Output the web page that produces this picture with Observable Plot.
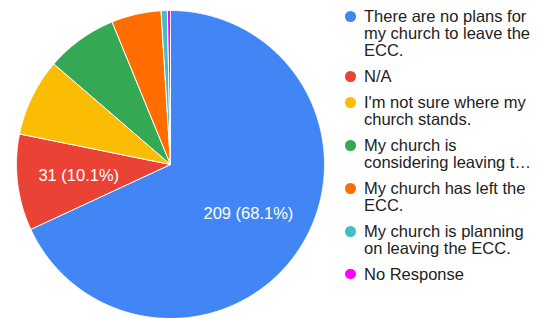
<!DOCTYPE html>
<html><head><meta charset="utf-8">
<script src="https://cdn.jsdelivr.net/npm/d3@7"></script>
<script src="https://cdn.jsdelivr.net/npm/@observablehq/plot@0.6"></script>
<style>
body{margin:0;background:#fff;font-family:Arial,"Liberation Sans",sans-serif;}
#wrap{display:flex;width:543px;height:318px;overflow:hidden;}
#chart{width:340px;height:318px;}
#legend{width:203px;padding-top:8.3px;font-size:16.5px;line-height:16.7px;color:#222;box-sizing:border-box;}
.item{position:relative;padding-left:24px;margin-bottom:9.5px;white-space:nowrap;}
.dot{position:absolute;left:5.4px;top:3.1px;width:10.6px;height:10.6px;border-radius:50%;}
</style></head>
<body><div id="wrap"><div id="chart"></div><div id="legend"></div></div>
<script>
const categories = [
  "There are no plans for my church to leave the ECC.",
  "N/A",
  "I'm not sure where my church stands.",
  "My church is considering leaving the ECC.",
  "My church has left the ECC.",
  "My church is planning on leaving the ECC.",
  "No Response"
];
const values = [209, 31, 25, 23, 16, 2, 1];
const colors = ["#4285f4", "#ea4335", "#fbbc04", "#34a853", "#ff6d01", "#46bdc6", "#ff00ff"];
const legendLines = [
  ["There are no plans for", "my church to leave the", "ECC."],
  ["N/A"],
  ["I'm not sure where my", "church stands."],
  ["My church is", "considering leaving t\u2026"],
  ["My church has left the", "ECC."],
  ["My church is planning", "on leaving the ECC."],
  ["No Response"]
];

const rows = categories.map((c, i) => ({cat: c, value: values[i]}));
const total = d3.sum(values);
const arcs = d3.pie().sort(null).value(d => d.value)(rows);

const pts = [];
arcs.forEach(a => {
  const n = Math.max(2, Math.ceil((a.endAngle - a.startAngle) / 0.005));
  pts.push({cat: a.data.cat, x: 0, y: 0});
  for (let i = 0; i <= n; i++) {
    const t = a.startAngle + (a.endAngle - a.startAngle) * i / n;
    pts.push({cat: a.data.cat, x: Math.sin(t), y: Math.cos(t)});
  }
  pts.push({cat: a.data.cat, x: 0, y: 0});
});

const labels = arcs.filter(a => a.data.value / total >= 0.1).map(a => {
  const m = (a.startAngle + a.endAngle) / 2;
  return {x: 0.6 * Math.sin(m), y: 0.6 * Math.cos(m),
          text: `${a.data.value} (${(a.data.value / total * 100).toFixed(1)}%)`};
});

const W = 340, H = 318, cx = 170, cy = 164, R = 154;
const chart = Plot.plot({
  width: W, height: H,
  margin: 0,
  x: {domain: [-cx / R, (W - cx) / R], axis: null},
  y: {domain: [-(H - cy) / R, cy / R], axis: null},
  color: {domain: categories, range: colors},
  style: {fontFamily: "Arial, 'Liberation Sans', sans-serif", background: "transparent", overflow: "visible"},
  marks: [
    Plot.line(pts, {x: "x", y: "y", z: "cat", fill: "cat", stroke: "white", strokeWidth: 1, strokeLinejoin: "round"}),
    Plot.text(labels, {x: "x", y: "y", text: "text", fill: "white", fontSize: 16.5})
  ]
});
document.getElementById("chart").appendChild(chart);

const legend = document.getElementById("legend");
categories.forEach((c, i) => {
  const item = document.createElement("div");
  item.className = "item";
  const dot = document.createElement("span");
  dot.className = "dot";
  dot.style.background = colors[i];
  item.appendChild(dot);
  const txt = document.createElement("div");
  txt.innerHTML = legendLines[i].map(s => s.replace(/&/g, "&amp;").replace(/</g, "&lt;")).join("<br>");
  item.appendChild(txt);
  legend.appendChild(item);
});
</script>
</body></html>
